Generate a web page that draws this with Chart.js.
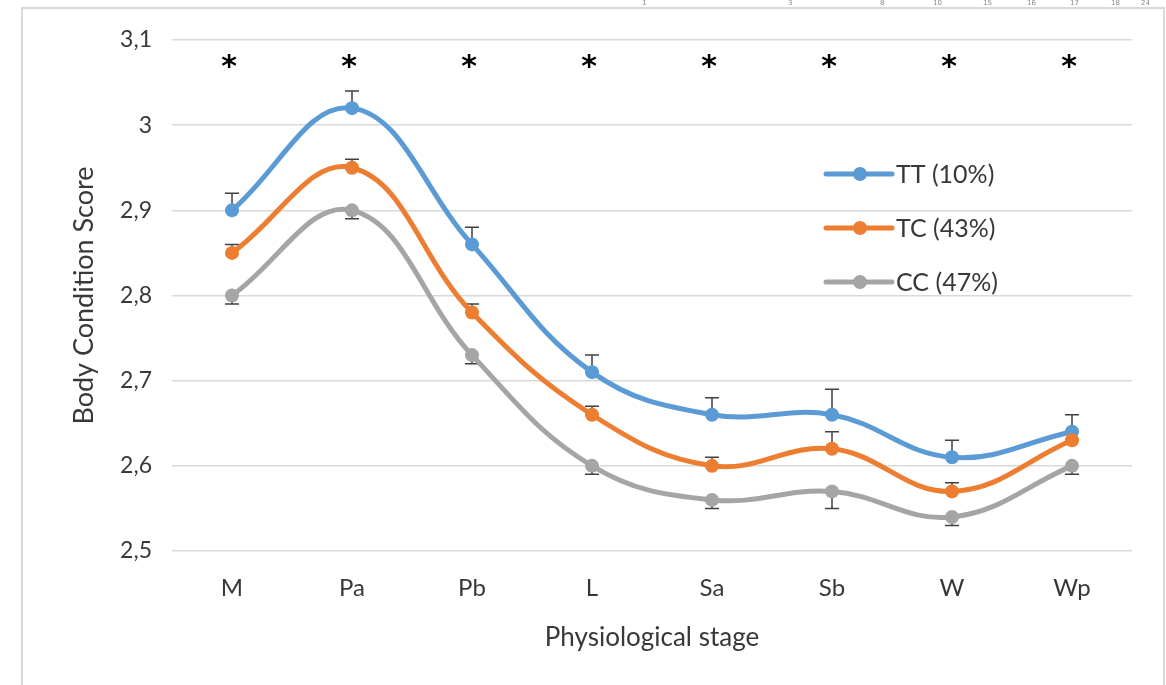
<!DOCTYPE html>
<html>
<head>
<meta charset="utf-8">
<script src="https://cdn.jsdelivr.net/npm/chart.js@4.4.0/dist/chart.umd.min.js"></script>
<style>
  body { margin: 0; background: #fff; }
  #wrap { position: relative; width: 1166px; height: 685px; overflow: hidden; }
  #frame { position: absolute; left: 21px; top: 7px; width: 1140px; height: 700px; border: 2px solid #d9d9d9; border-bottom: none; }
  #bcs-chart { position: absolute; left: 0; top: 0; }
  .tn { position: absolute; top: -1px; font: 7px "DejaVu Sans", sans-serif; color: #888; }
</style>
</head>
<body>
<div id="wrap">
  <div id="frame"></div>
  <canvas id="bcs-chart" width="1166" height="685"></canvas>
</div>
<script>
const stages = ["M", "Pa", "Pb", "L", "Sa", "Sb", "W", "Wp"];

const ttValues = [2.90, 3.02, 2.86, 2.71, 2.66, 2.66, 2.61, 2.64];
const tcValues = [2.85, 2.95, 2.78, 2.66, 2.60, 2.62, 2.57, 2.63];
const ccValues = [2.80, 2.90, 2.73, 2.60, 2.56, 2.57, 2.54, 2.60];

// error bars: TT and TC drawn up, CC drawn down
const ttErr = [0.02, 0.02, 0.02, 0.02, 0.02, 0.03, 0.02, 0.02];
const tcErr = [0.01, 0.01, 0.01, 0.01, 0.01, 0.02, 0.01, 0.01];
const ccErr = [0.01, 0.01, 0.01, 0.01, 0.01, 0.02, 0.01, 0.01];

const seriesNames = ["TT (10%)", "TC (43%)", "CC (47%)"];
const seriesColors = ["#5B9BD5", "#ED7D31", "#A5A5A5"];
const stars = ["*", "*", "*", "*", "*", "*", "*", "*"];

// stray tick numbers peeking above the frame
const topNumbers = ["1", "3", "8", "10", "15", "16", "17", "18", "24"];
const topNumberX = [645, 791, 883, 936, 986, 1030, 1073, 1114, 1144];

const FONT = "Lato, 'Open Sans', sans-serif";
const TEXT = "#383838";

topNumbers.forEach((t, i) => {
  const s = document.createElement("span");
  s.className = "tn";
  s.style.left = (topNumberX[i] - 3) + "px";
  s.textContent = t;
  document.getElementById("wrap").appendChild(s);
});

const errorBars = {
  id: "errorBars",
  beforeDatasetsDraw(chart) {
    const y = chart.scales.y;
    const ctx = chart.ctx;
    const sets = [[ttValues, ttErr, 1], [tcValues, tcErr, 1], [ccValues, ccErr, -1]];
    ctx.save();
    ctx.strokeStyle = "#404040";
    ctx.lineWidth = 1.5;
    sets.forEach((s, i) => {
      const meta = chart.getDatasetMeta(i);
      s[0].forEach((v, j) => {
        const x = meta.data[j].x;
        const y0 = y.getPixelForValue(v);
        const y1 = y.getPixelForValue(v + s[2] * s[1][j]);
        ctx.beginPath();
        ctx.moveTo(x, y0);
        ctx.lineTo(x, y1);
        ctx.moveTo(x - 7, y1);
        ctx.lineTo(x + 7, y1);
        ctx.stroke();
      });
    });
    ctx.restore();
  }
};

const extras = {
  id: "extras",
  afterDraw(chart) {
    const ctx = chart.ctx;
    const area = chart.chartArea;
    const x = chart.scales.x;
    ctx.save();
    // significance stars
    ctx.fillStyle = "#000";
    ctx.font = "bold 30px 'DejaVu Sans', sans-serif";
    ctx.textAlign = "center";
    ctx.textBaseline = "middle";
    stars.forEach((s, j) => {
      ctx.fillText(s, x.getPixelForValue(j) - 3, area.top + 28);
    });
    // legend inside the plot
    const lx = area.left + 654;
    seriesNames.forEach((name, i) => {
      const ly = area.top + 134 + i * 54;
      ctx.strokeStyle = seriesColors[i];
      ctx.fillStyle = seriesColors[i];
      ctx.lineWidth = 5;
      ctx.lineCap = "round";
      ctx.beginPath();
      ctx.moveTo(lx, ly);
      ctx.lineTo(lx + 66, ly);
      ctx.stroke();
      ctx.beginPath();
      ctx.arc(lx + 34, ly, 7, 0, Math.PI * 2);
      ctx.fill();
      ctx.fillStyle = TEXT;
      ctx.font = "25px " + FONT;
      ctx.textAlign = "left";
      ctx.fillText(name, lx + 70, ly + 1);
    });
    ctx.restore();
  }
};

const lineSet = (label, data, color, order) => ({
  label: label,
  data: data,
  borderColor: color,
  backgroundColor: color,
  borderWidth: 5,
  pointRadius: 7,
  pointBorderWidth: 0,
  pointBackgroundColor: color,
  tension: 0.4,
  order: order,
});

new Chart(document.getElementById("bcs-chart").getContext("2d"), {
  type: "line",
  data: {
    labels: stages,
    datasets: [
      lineSet(seriesNames[0], ttValues, seriesColors[0], 3),
      lineSet(seriesNames[1], tcValues, seriesColors[1], 2),
      lineSet(seriesNames[2], ccValues, seriesColors[2], 1),
    ],
  },
  options: {
    responsive: false,
    animation: false,
    layout: { padding: { left: 22, right: 34, top: 40, bottom: 0 } },
    plugins: {
      legend: { display: false },
      tooltip: { enabled: false },
    },
    scales: {
      x: {
        offset: true,
        grid: { display: false, drawTicks: false },
        border: { display: false },
        ticks: { padding: 23, color: TEXT, font: { family: FONT, size: 24 } },
        title: {
          display: true,
          text: "Physiological stage",
          color: TEXT,
          font: { family: FONT, size: 26 },
          padding: { top: 0, bottom: 32 },
        },
        afterFit: (s) => { s.height = 134; },
      },
      y: {
        min: 2.5,
        max: 3.1,
        grid: { color: "#d9d9d9", lineWidth: 1.5, drawTicks: false },
        border: { display: false },
        ticks: {
          stepSize: 0.1,
          padding: 20,
          color: TEXT,
          font: { family: FONT, size: 23 },
          callback: (v) => String(Number(v.toFixed(1))).replace(".", ","),
        },
        title: {
          display: true,
          text: "Body Condition Score",
          color: TEXT,
          font: { family: FONT, size: 27 },
          padding: { top: 46, bottom: 0 },
        },
        afterFit: (s) => { s.width = 150; },
      },
    },
  },
  plugins: [errorBars, extras],
});
</script>
</body>
</html>
